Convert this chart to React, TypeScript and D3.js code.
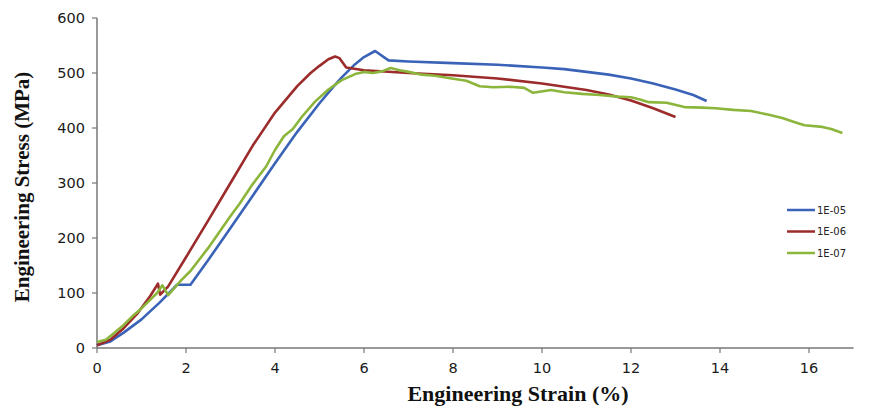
import React from "react";
import * as d3 from "d3";

// strain (%) vs stress (MPa)
const blue: [number, number][] = [
  [0, 5], [0.3, 12], [0.6, 28], [1.0, 52], [1.4, 82], [1.8, 115], [2.1, 115],
  [2.5, 160], [3, 218], [3.5, 277], [4, 336], [4.5, 393], [5, 445], [5.3, 474],
  [5.5, 492], [5.8, 516], [6.0, 529], [6.25, 540], [6.55, 523], [7, 521],
  [8, 518], [9, 515], [10, 510], [10.5, 507], [11, 502], [11.5, 497], [12, 490],
  [12.5, 481], [13, 470], [13.4, 460], [13.7, 449],
];
const red: [number, number][] = [
  [0, 5], [0.3, 15], [0.6, 36], [0.9, 62], [1.2, 95], [1.37, 117], [1.42, 97],
  [1.6, 112], [2.0, 165], [2.5, 232], [3.0, 300], [3.5, 368], [4.0, 428],
  [4.5, 476], [4.8, 500], [5.0, 513], [5.2, 525], [5.35, 530], [5.45, 527],
  [5.6, 510], [6, 505], [7, 500], [8, 496], [9, 490], [10, 481], [11, 469],
  [11.5, 461], [12, 450], [12.5, 436], [13, 420],
];
const green: [number, number][] = [
  [0, 11], [0.2, 15], [0.4, 28], [0.6, 42], [0.8, 58], [1.0, 72], [1.2, 88],
  [1.35, 100], [1.47, 114], [1.6, 96], [1.75, 110], [1.9, 124], [2.1, 140],
  [2.5, 182], [3.0, 240], [3.2, 262], [3.5, 298], [3.8, 330], [4.0, 360],
  [4.2, 385], [4.4, 398], [4.6, 420], [4.9, 448], [5.2, 470], [5.5, 487],
  [5.8, 498], [6.0, 502], [6.2, 500], [6.4, 503], [6.6, 509], [6.8, 505],
  [7.0, 502], [7.3, 497], [7.6, 495], [7.9, 491], [8.3, 486], [8.6, 476],
  [8.9, 474], [9.3, 475], [9.6, 473], [9.8, 464], [10.2, 469], [10.5, 465],
  [10.9, 462], [11.3, 460], [11.7, 457], [12.0, 456], [12.2, 452], [12.4, 447],
  [12.8, 446], [13.2, 438], [13.6, 437], [13.9, 436], [14.3, 433], [14.7, 431],
  [15.1, 424], [15.4, 418], [15.7, 410], [15.9, 405], [16.3, 402], [16.5, 398],
  [16.75, 391],
];

const seriesNames = ["1E-05", "1E-06", "1E-07"];
const seriesColors = ["#3a63b8", "#9c2b2b", "#8cb53c"];
const xTicks = [0, 2, 4, 6, 8, 10, 12, 14, 16];
const yTicks = [0, 100, 200, 300, 400, 500, 600];

const W = 869;
const H = 412;
const left = 97;
const top = 18;
const bottom = 348;

export default function App() {
  const x = d3.scaleLinear().domain([0, 17]).range([left, left + 17 * 44.5]);
  const y = d3.scaleLinear().domain([0, 600]).range([bottom, top]);
  const line = d3
    .line<[number, number]>()
    .x((d) => x(d[0]))
    .y((d) => y(d[1]));
  const data = [blue, red, green];
  const tickFont = "DejaVu Sans, Verdana, sans-serif";
  const titleFont = "Liberation Serif, Times New Roman, serif";

  return (
    <svg
      width={W}
      height={H}
      style={{ position: "absolute", left: 0, top: 0, background: "#fff" }}
    >
      {/* axes */}
      <line x1={left} x2={left} y1={top} y2={bottom} stroke="#777" strokeWidth={1.5} />
      <line x1={left} x2={x(17)} y1={bottom} y2={bottom} stroke="#777" strokeWidth={1.5} />
      {yTicks.map((t) => (
        <g key={"y" + t}>
          <line x1={left - 5} x2={left} y1={y(t)} y2={y(t)} stroke="#777" strokeWidth={1.2} />
          <text
            x={left - 12}
            y={y(t)}
            dy="0.35em"
            textAnchor="end"
            fontFamily={tickFont}
            fontSize={14.5}
            fill="#1a1a1a"
          >
            {t}
          </text>
        </g>
      ))}
      {xTicks.map((t) => (
        <g key={"x" + t}>
          <line x1={x(t)} x2={x(t)} y1={bottom} y2={bottom + 5} stroke="#777" strokeWidth={1.2} />
          <text
            x={x(t)}
            y={bottom + 20}
            dy="0.35em"
            textAnchor="middle"
            fontFamily={tickFont}
            fontSize={14.5}
            fill="#1a1a1a"
          >
            {t}
          </text>
        </g>
      ))}

      {/* curves */}
      {data.map((d, i) => (
        <path
          key={seriesNames[i]}
          d={line(d) || ""}
          fill="none"
          stroke={seriesColors[i]}
          strokeWidth={2.6}
          strokeLinejoin="round"
        />
      ))}

      {/* legend */}
      {seriesNames.map((n, i) => (
        <g key={"leg" + n} transform={`translate(787, ${210 + i * 21.5})`}>
          <line x1={0} x2={28} y1={0} y2={0} stroke={seriesColors[i]} strokeWidth={2.5} />
          <text x={30} y={0} dy="0.35em" fontFamily={tickFont} fontSize={10} fill="#222">
            {n}
          </text>
        </g>
      ))}

      {/* titles */}
      <text
        x={518}
        y={401}
        textAnchor="middle"
        fontFamily={titleFont}
        fontWeight="bold"
        fontSize={22}
        fill="#111"
      >
        Engineering Strain (%)
      </text>
      <text
        transform={`translate(29, 187) rotate(-90)`}
        textAnchor="middle"
        fontFamily={titleFont}
        fontWeight="bold"
        fontSize={21}
        fill="#111"
      >
        Engineering Stress (MPa)
      </text>
    </svg>
  );
}
